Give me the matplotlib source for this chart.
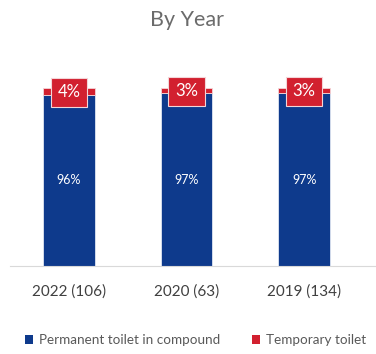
import numpy as np
import matplotlib.pyplot as plt
from matplotlib.patches import Patch

years = ["2022 (106)", "2020 (63)", "2019 (134)"]
permanent = [96, 97, 97]
temporary = [4, 3, 3]
series_names = ["Permanent toilet in compound", "Temporary toilet"]

blue = "#0E3A8C"
red = "#D2202F"

plt.rcParams["font.family"] = ["Lato", "DejaVu Sans"]

fig = plt.figure(figsize=(3.76, 3.54), dpi=100)
ax = fig.add_axes([10/376, 88/354, 366/376, 196/354])

x = np.arange(len(years))
w = 0.44
ax.bar(x, permanent, w, color=blue, edgecolor="#dfe6f2", linewidth=0.6)
ax.bar(x, temporary, w, bottom=permanent, color=red, edgecolor="#f4d5d8", linewidth=0.6)

for xi, p, t in zip(x, permanent, temporary):
    ax.text(xi, p / 2, f"{p}%", ha="center", va="center", color="white", fontsize=9)
    ax.text(xi, p + t / 2 - 0.5, f"{t}%", ha="center", va="center", color="white", fontsize=12,
            bbox=dict(boxstyle="square,pad=0.4", facecolor=red, edgecolor="#f4d5d8", linewidth=0.8))

ax.set_xlim(-0.5, 2.61)
ax.set_ylim(0, 110)
ax.set_xticks(x)
ax.set_xticklabels(years, fontsize=11, color="#404040")
ax.tick_params(axis="x", length=0, pad=13)
ax.set_yticks([])
for s in ["top", "right", "left"]:
    ax.spines[s].set_visible(False)
ax.spines["bottom"].set_color("#d9d9d9")

fig.text(187/376, 1 - 20/354, "By Year", ha="center", va="center", fontsize=15.5, color="#6b6b6b")

handles = [Patch(facecolor=blue), Patch(facecolor=red)]
fig.legend(handles, series_names, loc="center", bbox_to_anchor=(0.52, 1 - 340/354), ncol=2,
           frameon=False, fontsize=9.7, handlelength=0.6, handleheight=0.6, handletextpad=0.5,
           columnspacing=2.3, labelcolor="#595959")

fig.savefig("out.png", dpi=100)
